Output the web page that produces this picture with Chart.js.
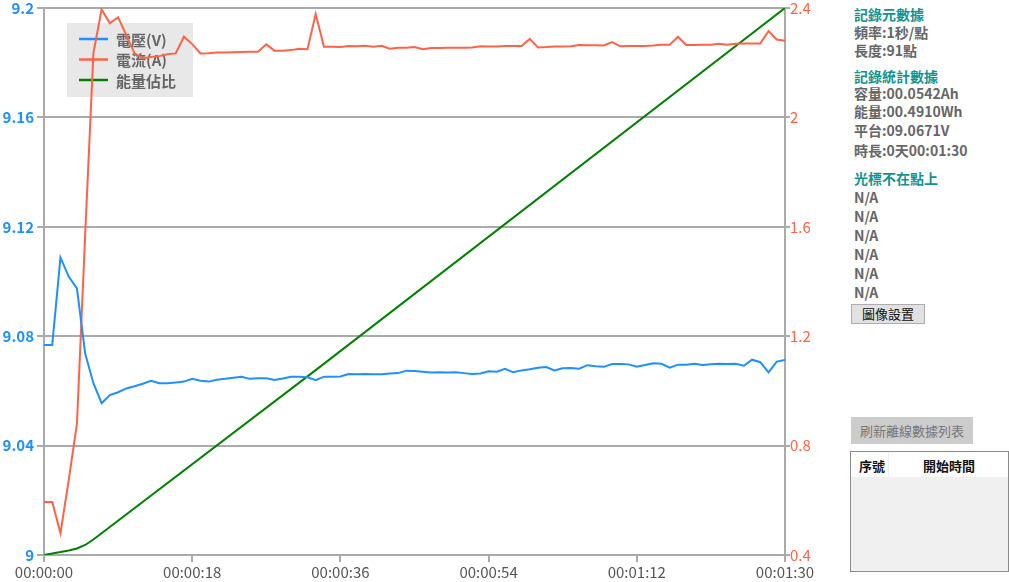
<!DOCTYPE html>
<html>
<head>
<meta charset="utf-8">
<script src="https://cdn.jsdelivr.net/npm/chart.js@4.4.1/dist/chart.umd.min.js"></script>
<style>
  body { margin: 0; background: #fff; font-family: "Noto Sans CJK TC", "Noto Sans", sans-serif; }
  #wrap { position: relative; width: 1009px; height: 582px; overflow: hidden; }
  #chart { position: absolute; left: 0; top: 0; }
  .side { position: absolute; left: 854px; font-size: 14px; font-weight: bold; color: #666; white-space: nowrap; line-height: 18px; }
  .head { color: #12938f; }
  .btn { position: absolute; font-size: 13px; text-align: center; box-sizing: border-box; }
  #tbl { position: absolute; left: 850px; top: 451px; width: 159px; height: 121px; box-sizing: border-box;
         border: 1px solid #8a8a8a; background: #f0f0f0; }
  #tbl .hd { position: absolute; left: 0; top: 0; right: 0; height: 25px; background: #fff; font-size: 13px; font-weight: bold; color: #111; }
</style>
</head>
<body>
<div id="wrap">
  <canvas id="chart" width="840" height="582"></canvas>

  <div class="side head" style="top:5px">記錄元數據</div>
  <div class="side" style="top:23px">頻率:1秒/點</div>
  <div class="side" style="top:41px">長度:91點</div>
  <div class="side head" style="top:67px">記錄統計數據</div>
  <div class="side" style="top:84px">容量:00.0542Ah</div>
  <div class="side" style="top:102px">能量:00.4910Wh</div>
  <div class="side" style="top:121px">平台:09.0671V</div>
  <div class="side" style="top:141px">時長:0天00:01:30</div>
  <div class="side head" style="top:169px">光標不在點上</div>
  <div class="side" style="top:188px">N/A</div>
  <div class="side" style="top:207px">N/A</div>
  <div class="side" style="top:226px">N/A</div>
  <div class="side" style="top:245px">N/A</div>
  <div class="side" style="top:264px">N/A</div>
  <div class="side" style="top:283px">N/A</div>

  <div class="btn" style="left:851px;top:304px;width:74px;height:20px;line-height:18px;background:#e1e1e1;border:1px solid #adadad;color:#111;">圖像設置</div>
  <div class="btn" style="left:851px;top:417px;width:122px;height:27px;line-height:27px;background:#cccccc;color:#777;">刷新離線數據列表</div>

  <div id="tbl">
    <div class="hd">
      <span style="position:absolute;left:8px;top:4px;">序號</span>
      <span style="position:absolute;left:37px;top:0;bottom:0;border-left:1px solid #eee;"></span>
      <span style="position:absolute;left:72px;top:4px;">開始時間</span>
    </div>
  </div>
</div>

<script>
// Data: one sample per second, 91 points
const voltage = [
  9.0768, 9.0768, 9.1088, 9.1018, 9.0975, 9.0737, 9.0628, 9.0555, 9.0585, 9.0595,
  9.0609, 9.0617, 9.0626, 9.0637, 9.0628, 9.0628, 9.0631, 9.0634, 9.0644, 9.0637,
  9.0634, 9.0641, 9.0644, 9.0648, 9.0652, 9.0644, 9.0646, 9.0646, 9.0640, 9.0645,
  9.0652, 9.0652, 9.0650, 9.0639, 9.0652, 9.0652, 9.0653, 9.0662, 9.0661, 9.0662,
  9.0661, 9.0661, 9.0664, 9.0665, 9.0674, 9.0673, 9.0670, 9.0667, 9.0668, 9.0667,
  9.0668, 9.0665, 9.0662, 9.0664, 9.0672, 9.0670, 9.0681, 9.0668, 9.0675, 9.0679,
  9.0685, 9.0687, 9.0675, 9.0683, 9.0684, 9.0681, 9.0694, 9.0690, 9.0688, 9.0698,
  9.0698, 9.0697, 9.0688, 9.0695, 9.0701, 9.0699, 9.0685, 9.0696, 9.0696, 9.0699,
  9.0695, 9.0697, 9.0699, 9.0698, 9.0699, 9.0692, 9.0714, 9.0705, 9.0668, 9.0707,
  9.0713
];
const current = [
  0.594, 0.594, 0.480, 0.674, 0.879, 1.570, 2.235, 2.395, 2.344, 2.366,
  2.301, 2.234, 2.216, 2.221, 2.224, 2.231, 2.234, 2.295, 2.268, 2.234,
  2.235, 2.237, 2.237, 2.238, 2.239, 2.240, 2.240, 2.267, 2.244, 2.244,
  2.246, 2.251, 2.249, 2.378, 2.258, 2.258, 2.257, 2.261, 2.260, 2.262,
  2.258, 2.262, 2.251, 2.255, 2.255, 2.257, 2.249, 2.254, 2.254, 2.255,
  2.255, 2.255, 2.256, 2.260, 2.259, 2.259, 2.261, 2.261, 2.261, 2.287,
  2.256, 2.257, 2.259, 2.259, 2.260, 2.265, 2.264, 2.264, 2.263, 2.275,
  2.260, 2.261, 2.261, 2.261, 2.263, 2.266, 2.266, 2.295, 2.265, 2.265,
  2.266, 2.266, 2.269, 2.266, 2.269, 2.270, 2.270, 2.270, 2.316, 2.285,
  2.280
];
// energy ratio (%) read at the corners of the green line
const energySec = [0, 1, 2, 3, 4, 5, 6, 33, 90];
const energyPct = [0, 0.27, 0.55, 0.82, 1.19, 1.83, 2.83, 33.8, 100];

const seconds = voltage.map((v, i) => i);
const xTicks = [0, 18, 36, 54, 72, 90];
const xTickLabels = ["00:00:00", "00:00:18", "00:00:36", "00:00:54", "00:01:12", "00:01:30"];
const vTicks = [9, 9.04, 9.08, 9.12, 9.16, 9.2];
const vTickLabels = ["9", "9.04", "9.08", "9.12", "9.16", "9.2"];
const aTicks = [0.4, 0.8, 1.2, 1.6, 2, 2.4];
const aTickLabels = ["0.4", "0.8", "1.2", "1.6", "2", "2.4"];
const seriesNames = ["電壓(V)", "電流(A)", "能量佔比"];
const seriesColors = ["#1e90ff", "#ff6347", "#008000"];

const GRID = "#aaaaaa";
const FONT = "'Noto Sans CJK TC', 'Noto Sans', sans-serif";

// legend box drawn inside the plot, under the lines
const innerLegend = {
  id: "innerLegend",
  beforeDatasetsDraw(chart) {
    const c = chart.ctx;
    const area = chart.chartArea;
    const x0 = area.left + 23, y0 = area.top + 15;
    c.save();
    c.fillStyle = "#e8e8e8";
    c.fillRect(x0, y0, 126, 74);
    c.font = "bold 15px " + FONT;
    c.textBaseline = "middle";
    seriesNames.forEach((name, i) => {
      const y = y0 + 16 + i * 20.5;
      c.strokeStyle = seriesColors[i];
      c.lineWidth = 2.5;
      c.beginPath();
      c.moveTo(x0 + 12, y);
      c.lineTo(x0 + 41, y);
      c.stroke();
      c.fillStyle = "#666";
      c.fillText(name, x0 + 49, y + 1);
    });
    c.restore();
  }
};

const ctx = document.getElementById("chart").getContext("2d");
new Chart(ctx, {
  type: "line",
  data: {
    datasets: [
      {
        label: seriesNames[0],
        data: voltage.map((v, i) => ({ x: seconds[i], y: v })),
        borderColor: seriesColors[0],
        borderWidth: 2,
        pointRadius: 0,
        tension: 0,
        yAxisID: "y"
      },
      {
        label: seriesNames[1],
        data: current.map((a, i) => ({ x: seconds[i], y: a })),
        borderColor: seriesColors[1],
        borderWidth: 2,
        pointRadius: 0,
        tension: 0,
        yAxisID: "y1"
      },
      {
        label: seriesNames[2],
        data: energyPct.map((p, i) => ({ x: energySec[i], y: p })),
        borderColor: seriesColors[2],
        borderWidth: 2,
        pointRadius: 0,
        tension: 0,
        yAxisID: "y2"
      }
    ]
  },
  options: {
    responsive: false,
    animation: false,
    layout: { padding: { top: 8, left: 0, right: 0, bottom: 0 } },
    plugins: {
      legend: { display: false },
      tooltip: { enabled: false }
    },
    scales: {
      x: {
        type: "linear",
        min: 0,
        max: 90,
        afterBuildTicks: s => { s.ticks = xTicks.map(v => ({ value: v })); },
        afterFit: s => { s.height = 27; s.paddingLeft = 0; s.paddingRight = 0; },
        ticks: {
          callback: (v) => xTickLabels[xTicks.indexOf(v)],
          color: "#555",
          font: { family: FONT, size: 15 },
          padding: 1,
          maxRotation: 0
        },
        grid: { drawOnChartArea: false, color: GRID, lineWidth: 2, tickLength: 7 },
        border: { color: GRID, width: 2 }
      },
      y: {
        position: "left",
        min: 9,
        max: 9.2,
        afterBuildTicks: s => { s.ticks = vTicks.map(v => ({ value: v })); },
        afterFit: s => { s.width = 44; s.paddingTop = 0; s.paddingBottom = 0; },
        ticks: {
          callback: (v) => vTickLabels[vTicks.indexOf(v)],
          color: "#1e90ff",
          font: { family: FONT, size: 15, weight: "bold" },
          padding: 3
        },
        grid: { color: GRID, lineWidth: 2, tickLength: 7 },
        border: { color: GRID, width: 2 }
      },
      y1: {
        position: "right",
        min: 0.4,
        max: 2.4,
        afterBuildTicks: s => { s.ticks = aTicks.map(v => ({ value: v })); },
        afterFit: s => { s.width = 55; s.paddingTop = 0; s.paddingBottom = 0; },
        ticks: {
          callback: (v) => aTickLabels[aTicks.indexOf(v)],
          color: "#ff6347",
          font: { family: FONT, size: 15 },
          padding: 0
        },
        grid: { drawOnChartArea: false, color: GRID, lineWidth: 2, tickLength: 5 },
        border: { color: GRID, width: 2 }
      },
      y2: {
        display: false,
        min: 0,
        max: 100
      }
    }
  },
  plugins: [innerLegend]
});
</script>
</body>
</html>
